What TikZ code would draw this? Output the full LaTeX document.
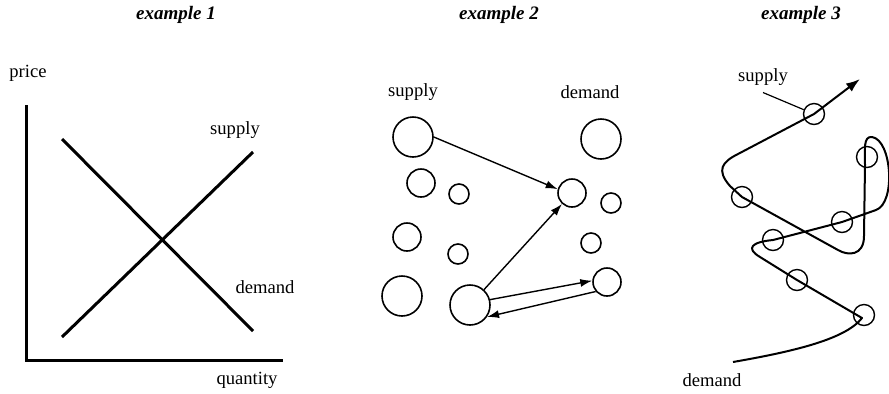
\documentclass[tikz,border=0pt]{standalone}
\usepackage{fontspec}
\setmainfont{Liberation Serif}
\usetikzlibrary{arrows.meta}

\begin{document}
\begin{tikzpicture}[x=0.5pt, y=-0.5pt, font=\fontsize{9.3}{11}\selectfont, >={Latex[length=6pt,width=4pt]}]
\tikzstyle{big} = [circle, draw, line width=0.8pt, inner sep=0, minimum size=20pt]
\tikzstyle{mid} = [big, minimum size=14pt]
\tikzstyle{small} = [big, minimum size=10pt]
\tikzstyle{ring} = [big, line width=0.7pt, minimum size=10.5pt]
\tikzstyle{title} = [font=\fontsize{9.5}{11}\selectfont\bfseries\itshape]
\tikzstyle{curve} = [line width=1pt, line join=round]
\useasboundingbox (0,0) rectangle (889,393);

% example 1
\node[title] (t1) at (176,15) {example 1};
\node (price) at (28,73) {price};
\node (quantity) at (247,380) {quantity};
\node (supply1) at (235,130) {supply};
\node (demand1) at (265,287) {demand};
\coordinate (top) at (26,105);
\coordinate (origin) at (26,360);
\coordinate (right) at (283,360);
\draw[line width=1.5pt] (top) -- (origin) -- (right);
\draw[line width=1.5pt] (62,337) -- (253,152);
\draw[line width=1.5pt] (62,139) -- (253,331);

% example 2
\node[title] (t2) at (499,15) {example 2};
\node (supply2) at (413,92) {supply};
\node (demand2) at (590,92) {demand};
\node[big] (a) at (413,137) {};
\node[mid] (b) at (421,183) {};
\node[small] (c) at (459,194) {};
\node[mid] (d) at (407,237) {};
\node[small] (e) at (458,254) {};
\node[big] (f) at (402,296) {};
\node[big] (g) at (470,305) {};
\node[big] (h) at (601,139) {};
\node[mid] (i) at (572,193) {};
\node[small] (j) at (611,203) {};
\node[small] (k) at (591,243) {};
\node[mid] (l) at (607,282) {};
\foreach \from/\to in {a.east/i.165, g/i, g.15/l.175, l.220/g.-35}
\draw [->, line width=0.7pt] (\from) -- (\to);

% example 3
\node[title] (t3) at (801,15) {example 3};
\node (supply3) at (763,77) {supply};
\node (demand3) at (712,380) {demand};
\draw[curve, ->, >={Latex[length=7pt,width=5pt]}] (733,362) .. controls (790,352) and (845,340) .. (862,318)
  -- (797,280) -- (760,257) .. controls (745,248) and (752,242) .. (773,240)
  -- (842,222) -- (876,210) .. controls (896,203) and (892,140) .. (872,137)
  .. controls (863,136) and (865,150) .. (865,165) -- (864,236)
  .. controls (864,256) and (848,256) .. (838,250) -- (742,197) -- (730,186)
  .. controls (716,170) and (722,162) .. (738,154) -- (814,114) -- (860,79);
\node[ring] (s1) at (814,114) {};
\node[ring] (s2) at (867,157) {};
\node[ring] (s3) at (742,197) {};
\node[ring] (s4) at (842,222) {};
\node[ring] (s5) at (773,240) {};
\node[ring] (s6) at (797,280) {};
\node[ring] (s7) at (864,315) {};
\draw[line width=0.6pt] (supply3.south) -- (s1);
\end{tikzpicture}
\end{document}
